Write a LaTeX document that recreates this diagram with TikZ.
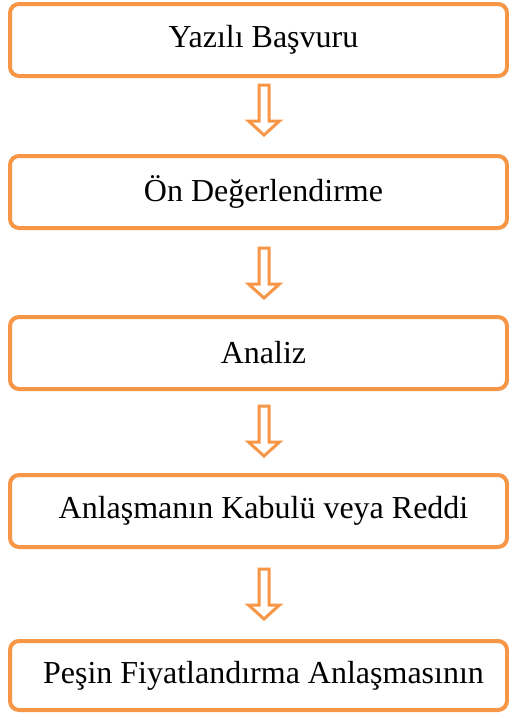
\documentclass[tikz,border=0pt]{standalone}
\usepackage{fontspec}
\setmainfont{Liberation Serif}
\usetikzlibrary{calc}
\definecolor{flowOrange}{RGB}{247,150,70}

% Outlined block arrow, tip at #1 (tip of the arrow points down)
\newcommand{\blockdown}[1]{%
  \draw[downarrow] ($#1+(-5,50)$) -- ($#1+(5,50)$) -- ($#1+(5,14)$)
    -- ($#1+(15.5,14)$) -- #1 -- ($#1+(-15.5,14)$) -- ($#1+(-5,14)$) -- cycle;}

\begin{document}
\begin{tikzpicture}[x=1pt,y=1pt,
  stagebox/.style={draw=flowOrange, line width=4pt, rounded corners=9pt,
    fill=white, minimum width=497pt, minimum height=72pt, inner sep=0pt},
  stagetext/.style={font=\fontsize{32}{36}\selectfont, inner sep=0pt},
  downarrow/.style={draw=flowOrange, fill=white, line width=3pt, miter limit=10}]
  \useasboundingbox (0,0) rectangle (509,-713);
  \fill[white] (0,0) rectangle (509,-713);

  \node[stagebox, label={[stagetext, xshift=5pt]center:Yazılı Başvuru}] (b1) at (258.5,-40) {};
  \node[stagebox, label={[stagetext, xshift=5pt]center:Ön Değerlendirme}] (b2) at (258.5,-192) {};
  \node[stagebox, label={[stagetext, xshift=5pt]center:Analiz}] (b3) at (258.5,-353) {};
  \node[stagebox, label={[stagetext, xshift=5pt]center:Anlaşmanın Kabulü veya Reddi}] (b4) at (258.5,-511) {};
  \node[stagebox, minimum height=69pt, label={[stagetext, xshift=5pt]center:Peşin Fiyatlandırma Anlaşmasının}] (b5) at (258.5,-675.5) {};

  % arrows between the stages, placed above each following box
  \coordinate (t1) at ($(b2.north)+(5.5,19)$);
  \coordinate (t2) at ($(b3.north)+(5.5,17)$);
  \coordinate (t3) at ($(b4.north)+(5.5,17)$);
  \coordinate (t4) at ($(b5.north)+(5.5,20)$);
  \blockdown{(t1)}
  \blockdown{(t2)}
  \blockdown{(t3)}
  \blockdown{(t4)}
\end{tikzpicture}
\end{document}
